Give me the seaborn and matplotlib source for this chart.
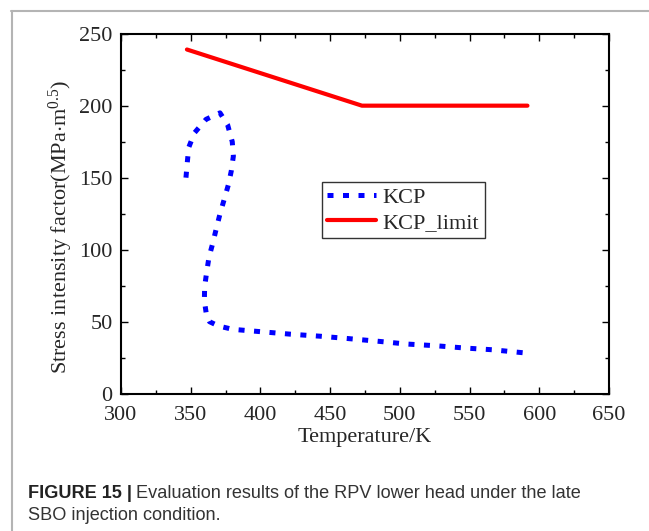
import matplotlib
matplotlib.use("Agg")
import matplotlib.pyplot as plt
import seaborn as sns
import pandas as pd
from matplotlib.lines import Line2D

# ================= Data ================= #
kcp_temp = [346.6, 347.6, 348.6, 352.6, 361.0, 371.0, 376.5, 379.8, 380.6, 379.1,
            377.0, 373.9, 371.0, 368.4, 365.8, 363.1, 361.5, 360.0, 359.8, 361.3,
            363.5, 370.0, 380.0, 400.8, 421.8, 442.9, 462.6, 484.4, 504.6, 525.7,
            546.7, 566.4, 588.7]
kcp_val = [150.0, 161.0, 171.0, 181.0, 190.5, 195.0, 186.6, 175.0, 165.0, 154.6,
           145.0, 134.5, 124.8, 114.8, 104.4, 94.7, 84.7, 74.3, 64.6, 54.7,
           50.0, 47.0, 44.7, 43.0, 41.3, 39.9, 38.3, 36.4, 34.5, 33.3,
           31.7, 30.5, 28.4]
limit_temp = [347.3, 472.8, 591.5]
limit_val = [239.0, 200.0, 200.0]

xticks = [300, 350, 400, 450, 500, 550, 600, 650]
yticks = [0, 50, 100, 150, 200, 250]

df_kcp = pd.DataFrame({"T": kcp_temp, "K": kcp_val})
df_lim = pd.DataFrame({"T": limit_temp, "K": limit_val})

# ================= Style ================= #
sns.set_style("ticks")
plt.rcParams["font.family"] = ["Liberation Serif", "DejaVu Serif"]
plt.rcParams["mathtext.fontset"] = "custom"
plt.rcParams["mathtext.rm"] = "Liberation Serif"
plt.rcParams["mathtext.it"] = "Liberation Serif:italic"

fig = plt.figure(figsize=(6.49, 5.31), dpi=100)
ax = fig.add_axes([0.1864, 0.2586, 0.752, 0.678])

sns.lineplot(data=df_kcp, x="T", y="K", sort=False, estimator=None, ax=ax,
             color="#0000ff", linewidth=3.6, label="KCP")
ax.lines[-1].set_dashes((1.2, 1.9))
sns.lineplot(data=df_lim, x="T", y="K", sort=False, estimator=None, ax=ax,
             color="#ff0000", linewidth=3.0, label="KCP_limit")

ax.set_xlim(300, 650)
ax.set_ylim(0, 250)
ax.set_xticks(xticks)
ax.set_yticks(yticks)
ax.set_xticks([325, 375, 425, 475, 525, 575, 625], minor=True)
ax.set_yticks([25, 75, 125, 175, 225], minor=True)
ax.tick_params(which="both", direction="in", top=True, right=True,
               labeltop=False, labelright=False, color="black")
ax.tick_params(which="major", length=5, width=1.0, labelsize=16)
ax.tick_params(which="minor", length=3, width=1.0)
ax.tick_params(axis="x", which="major", pad=9)
ax.tick_params(axis="y", which="major", pad=6)
for s in ax.spines.values():
    s.set_linewidth(1.5)
    s.set_color("black")

ax.set_xlabel("Temperature/K", fontsize=16, labelpad=2)
ax.set_ylabel("Stress intensity factor(MPa$\\cdot$m$^{0.5}$)", fontsize=16)
ax.yaxis.set_label_coords(-0.095, 0.463)

leg = ax.legend(loc="upper left", bbox_to_anchor=(0.411, 0.589), borderaxespad=0,
                fontsize=16, frameon=True, fancybox=False, handlelength=2.2,
                handletextpad=0.3, labelspacing=0.2, borderpad=0.25)
leg.get_frame().set_edgecolor("black")
leg.get_frame().set_linewidth(1.0)

# ================= Frame and caption ================= #
W, H = 649.0, 531.0
fig.add_artist(Line2D([11 / W, 1.0], [1 - 10.5 / H, 1 - 10.5 / H], color="#b4b4b4", linewidth=1.5))
fig.add_artist(Line2D([11.5 / W, 11.5 / W], [0.0, 1 - 10.5 / H], color="#b4b4b4", linewidth=1.5))

cap_kw = dict(fontsize=13.1, family="Liberation Sans", va="center")
bold = fig.text(28 / W, 1 - 493 / H, "FIGURE 15 |", fontweight="bold", color="#222222", **cap_kw)
fig.canvas.draw()
bb = bold.get_window_extent().transformed(fig.transFigure.inverted())
fig.text(bb.x1 + 4 / W, 1 - 493 / H, "Evaluation results of the RPV lower head under the late",
         color="#333333", **cap_kw)
fig.text(28 / W, 1 - 516 / H, "SBO injection condition.", color="#333333", **cap_kw)

fig.savefig("out.png", dpi=100)
